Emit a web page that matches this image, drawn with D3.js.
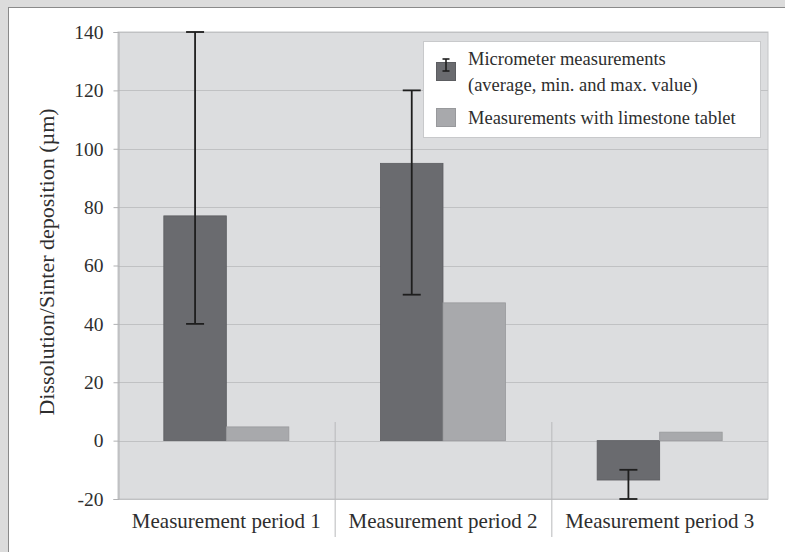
<!DOCTYPE html>
<html><head><meta charset="utf-8">
<script src="https://cdn.jsdelivr.net/npm/d3@7"></script>
<style>html,body{margin:0;padding:0;background:#dcdcdc;}svg{display:block;}</style>
</head><body>
<svg id="c" width="785" height="552"></svg>
<script>
const categories = ["Measurement period 1", "Measurement period 2", "Measurement period 3"];
const micrometerAvg = [77, 95, -13.5];
const micrometerMin = [40, 50, -20];
const micrometerMax = [140, 120, -10];
const limestone = [4.7, 47.2, 2.9];
const yTicks = [-20, 0, 20, 40, 60, 80, 100, 120, 140];
const seriesNames = ["Micrometer measurements", "(average, min. and max. value)", "Measurements with limestone tablet"];
const yTitle = "Dissolution/Sinter deposition (µm)";

const svg = d3.select("#c");
const FONT = "'Liberation Serif', 'DejaVu Serif', serif";
const TXT = "#2e2e2e";
// outer frame
svg.append("rect").attr("x",0).attr("y",0).attr("width",785).attr("height",552).attr("fill","#dcdcdc");
svg.append("rect").attr("x",8.5).attr("y",7.5).attr("width",790).attr("height",560).attr("fill","#fff").attr("stroke","#8a8a8a").attr("stroke-width",1);

const L=118, R=768, T=32, B=499;
const y = d3.scaleLinear().domain([-20,140]).range([B,T]);
const x = d3.scaleBand().domain(categories).range([L,R]).paddingInner(0).paddingOuter(0);
const inner = d3.scaleBand().domain(["m","l"]).range([0, x.bandwidth()]).paddingInner(0).paddingOuter(0.733);

const g = svg.append("g");
g.append("rect").attr("x",L).attr("y",T).attr("width",R-L).attr("height",B-T).attr("fill","#dcdddf").attr("stroke","#c4c5c7");

// grid
g.selectAll("line.grid").data(yTicks).join("line")
  .attr("x1",L).attr("x2",R).attr("y1",d=>Math.round(y(d))+0.5).attr("y2",d=>Math.round(y(d))+0.5)
  .attr("stroke","#c0c1c3").attr("stroke-width",1.2);

// y axis
const yAxis = d3.axisLeft(y).tickValues(yTicks).tickSize(5).tickPadding(10).tickFormat(d=>String(d));
const ya = g.append("g").attr("transform",`translate(${L+0.5},0)`).call(yAxis);
ya.select(".domain").attr("stroke","#b0b1b3");
ya.selectAll(".tick line").attr("stroke","#b0b1b3");
ya.selectAll(".tick text").attr("font-family",FONT).attr("font-size",19.5).attr("fill",TXT);

// category separators
const seps = [categories[1], categories[2]].map(c => x(c));
g.selectAll("line.sep").data(seps).join("line")
  .attr("x1",d=>d+0.5).attr("x2",d=>d+0.5).attr("y1",422).attr("y2",537)
  .attr("stroke","#b8b9bb").attr("stroke-width",1);

// category labels
g.selectAll("text.cat").data(categories).join("text")
  .attr("x",d=>x(d)+x.bandwidth()/2).attr("y",528)
  .attr("text-anchor","middle").attr("font-family",FONT).attr("font-size",21).attr("fill",TXT)
  .text(d=>d);

// bars
const mData = categories.map((c,i)=>({c, v:micrometerAvg[i], lo:micrometerMin[i], hi:micrometerMax[i]}));
const lData = categories.map((c,i)=>({c, v:limestone[i]}));
g.selectAll("rect.m").data(mData).join("rect")
  .attr("x",d=>x(d.c)+inner("m")).attr("width",inner.bandwidth())
  .attr("y",d=>y(Math.max(0,d.v))).attr("height",d=>Math.abs(y(d.v)-y(0)))
  .attr("fill","#6a6b6f").attr("stroke","#5c5d61").attr("stroke-width",0.8);
g.selectAll("rect.l").data(lData).join("rect")
  .attr("x",d=>x(d.c)+inner("l")).attr("width",inner.bandwidth())
  .attr("y",d=>y(Math.max(0,d.v))).attr("height",d=>Math.abs(y(d.v)-y(0)))
  .attr("fill","#a8a9ac").attr("stroke","#98999c").attr("stroke-width",0.8);

// error bars
const eb = g.selectAll("g.eb").data(mData).join("g");
eb.append("line").attr("x1",d=>x(d.c)+inner("m")+inner.bandwidth()/2).attr("x2",d=>x(d.c)+inner("m")+inner.bandwidth()/2)
  .attr("y1",d=>y(d.lo)).attr("y2",d=>y(d.hi)).attr("stroke","#1e1e1e").attr("stroke-width",1.8);
[ "lo","hi" ].forEach(k=>{
  eb.append("line").attr("x1",d=>x(d.c)+inner("m")+inner.bandwidth()/2-9).attr("x2",d=>x(d.c)+inner("m")+inner.bandwidth()/2+9)
    .attr("y1",d=>y(d[k])).attr("y2",d=>y(d[k])).attr("stroke","#1e1e1e").attr("stroke-width",1.8);
});

// legend
const lg = svg.append("g");
lg.append("rect").attr("x",423.5).attr("y",41.5).attr("width",337).attr("height",96).attr("fill","#fff").attr("stroke","#c8c9cb");
lg.append("rect").attr("x",436.5).attr("y",62.5).attr("width",19).attr("height",18).attr("fill","#6a6b6f").attr("stroke","#5c5d61");
lg.append("line").attr("x1",446).attr("x2",446).attr("y1",59).attr("y2",71).attr("stroke","#1e1e1e").attr("stroke-width",1.6);
lg.append("line").attr("x1",442.5).attr("x2",449.5).attr("y1",59).attr("y2",59).attr("stroke","#1e1e1e").attr("stroke-width",1.6);
lg.append("line").attr("x1",442.5).attr("x2",449.5).attr("y1",71).attr("y2",71).attr("stroke","#1e1e1e").attr("stroke-width",1.6);
lg.append("rect").attr("x",436.5).attr("y",108.5).attr("width",19).attr("height",18).attr("fill","#a8a9ac").attr("stroke","#98999c");
lg.selectAll("text").data([[seriesNames[0],65],[seriesNames[1],91],[seriesNames[2],124]]).join("text")
  .attr("x",468).attr("y",d=>d[1]).attr("font-family",FONT).attr("font-size",18.5).attr("fill",TXT).text(d=>d[0]);

// y title
svg.append("text").attr("transform","translate(54,262) rotate(-90)").attr("text-anchor","middle")
  .attr("font-family",FONT).attr("font-size",22).attr("fill",TXT).text(yTitle);
</script>
</body></html>
